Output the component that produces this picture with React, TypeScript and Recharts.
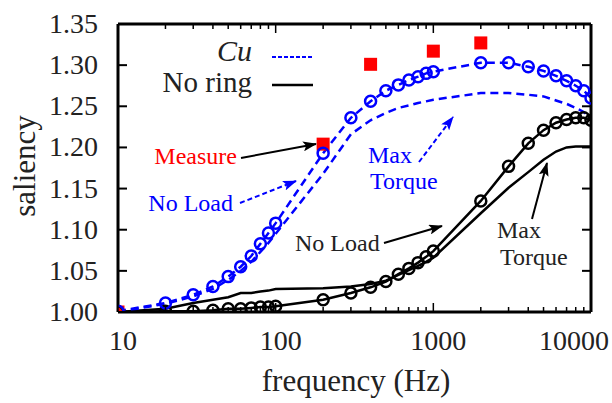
import { ComposedChart, Line, Scatter, XAxis, YAxis } from 'recharts';

// frequencies where every curve was sampled (Hz)
const FREQS = [10, 20, 30, 40, 50, 60, 70, 80, 90, 100, 200, 300, 400, 500, 600, 700, 800, 900, 1000, 2000, 3000, 4000, 5000, 6000, 7000, 8000, 9000, 10000];

const CU_NO_LOAD = [1.001, 1.011, 1.021, 1.031, 1.043, 1.055, 1.068, 1.083, 1.096, 1.108, 1.193, 1.236, 1.256, 1.269, 1.276, 1.282, 1.286, 1.29, 1.292, 1.303, 1.303, 1.298, 1.293, 1.287, 1.281, 1.275, 1.269, 1.26];
const CU_MAX_TORQUE = [1.0, 1.01, 1.019, 1.028, 1.039, 1.05, 1.061, 1.073, 1.084, 1.095, 1.168, 1.216, 1.233, 1.242, 1.248, 1.251, 1.254, 1.256, 1.258, 1.266, 1.266, 1.264, 1.262, 1.257, 1.253, 1.248, 1.243, 1.236];
const NORING_NO_LOAD = [1.0, 1.001, 1.001, 1.002, 1.004, 1.004, 1.005, 1.006, 1.006, 1.007, 1.015, 1.023, 1.03, 1.037, 1.046, 1.053, 1.06, 1.067, 1.074, 1.135, 1.177, 1.205, 1.221, 1.23, 1.234, 1.236, 1.236, 1.233];
const NORING_MAX_TORQUE = [1.0, 1.004, 1.011, 1.015, 1.018, 1.023, 1.023, 1.025, 1.026, 1.028, 1.029, 1.031, 1.034, 1.038, 1.045, 1.051, 1.056, 1.061, 1.066, 1.12, 1.151, 1.17, 1.185, 1.195, 1.2, 1.201, 1.201, 1.201];

const MEASURE_FREQS = [10, 200, 400, 1000, 2000];
const MEASURE_VALUES = [1.0, 1.204, 1.301, 1.317, 1.327];

const X_MAJOR = [10, 100, 1000, 10000];
const X_TICKS = [10, 20, 30, 40, 50, 60, 70, 80, 90, 100, 200, 300, 400, 500, 600, 700, 800, 900, 1000, 2000, 3000, 4000, 5000, 6000, 7000, 8000, 9000, 10000];
const Y_TICKS = [1.0, 1.05, 1.1, 1.15, 1.2, 1.25, 1.3, 1.35];

const BLUE = '#0000ff';
const RED = '#ff0000';
const FONT = 'Liberation Serif';

const pairs = (vals: number[]) => FREQS.map((f, i) => ({ f, v: vals[i] }));

const cuNoLoad = pairs(CU_NO_LOAD);
const cuMaxTorque = pairs(CU_MAX_TORQUE);
const noRingNoLoad = pairs(NORING_NO_LOAD);
const noRingMaxTorque = pairs(NORING_MAX_TORQUE);
const measure = MEASURE_FREQS.map((f, i) => ({ f, v: MEASURE_VALUES[i] }));

const BottomTick = (props: any) => {
  const { x, y, payload } = props;
  const major = X_MAJOR.includes(payload.value);
  const last = payload.value === 10000;
  return (
    <g>
      <line x1={x} y1={y} x2={x} y2={y - (major ? 9 : 5)} stroke="#000" strokeWidth={1.5} />
      {major && (
        <text x={last ? x + 18 : x + 5} y={y + 38} textAnchor={last ? 'end' : 'middle'} style={{ fontFamily: FONT }} fontSize={28} fill="#222">
          {payload.value}
        </text>
      )}
    </g>
  );
};

const TopTick = (props: any) => {
  const { x, y, payload } = props;
  const major = X_MAJOR.includes(payload.value);
  return <line x1={x} y1={y} x2={x} y2={y + (major ? 9 : 5)} stroke="#000" strokeWidth={1.5} />;
};

const LeftTick = (props: any) => {
  const { x, y, payload } = props;
  return (
    <g>
      <line x1={x} y1={y} x2={x + 9} y2={y} stroke="#000" strokeWidth={2} />
      <text x={x - 20} y={y + 9} textAnchor="end" style={{ fontFamily: FONT }} fontSize={28} fill="#222">
        {payload.value.toFixed(2)}
      </text>
    </g>
  );
};

const RightTick = (props: any) => {
  const { x, y } = props;
  return <line x1={x} y1={y} x2={x - 9} y2={y} stroke="#000" strokeWidth={2} />;
};

const Square = (props: any) => {
  const { cx, cy } = props;
  return <rect x={cx - 6.5} y={cy - 6.5} width={13} height={13} fill={RED} />;
};

function Overlay() {
  return (
    <svg width={612} height={403} style={{ position: 'absolute', left: 0, top: 0, pointerEvents: 'none', fontFamily: FONT }}>
      <defs>
        <marker id="headBlack" markerUnits="userSpaceOnUse" markerWidth={14} markerHeight={10} refX={13} refY={5} orient="auto">
          <path d="M0,0 L14,5 L0,10 L3,5 z" fill="#000" />
        </marker>
        <marker id="headBlue" markerUnits="userSpaceOnUse" markerWidth={14} markerHeight={10} refX={13} refY={5} orient="auto">
          <path d="M0,0 L14,5 L0,10 L3,5 z" fill={BLUE} />
        </marker>
      </defs>

      {/* legend */}
      <text x={252} y={61} textAnchor="end" fontStyle="italic" fontSize={30} fill="#222">Cu</text>
      <line x1={272} y1={57} x2={313} y2={57} stroke={BLUE} strokeWidth={2} strokeDasharray="4 2" />
      <text x={252} y={92} textAnchor="end" fontSize={29} fill="#222">No ring</text>
      <line x1={272} y1={85} x2={313} y2={85} stroke="#000" strokeWidth={2.5} />

      {/* annotations */}
      <text x={237} y={164} textAnchor="end" fontSize={24} fill={RED}>Measure</text>
      <line x1={241} y1={158} x2={316} y2={144} stroke="#000" strokeWidth={2} markerEnd="url(#headBlack)" />

      <text x={233} y={211} textAnchor="end" fontSize={24} fill={BLUE}>No Load</text>
      <line x1={240} y1={203} x2={296} y2={181} stroke={BLUE} strokeWidth={2} strokeDasharray="5 3" markerEnd="url(#headBlue)" />

      <text x={368} y={163} fontSize={24} fill={BLUE}>Max</text>
      <text x={370} y={189} fontSize={24} fill={BLUE}>Torque</text>
      <line x1={419} y1={162} x2={453} y2={117} stroke={BLUE} strokeWidth={2} strokeDasharray="5 3" markerEnd="url(#headBlue)" />

      <text x={295} y={251} fontSize={24} fill="#222">No Load</text>
      <line x1={384} y1={243} x2={442} y2={226} stroke="#000" strokeWidth={2} markerEnd="url(#headBlack)" />

      <text x={497} y={238} fontSize={24} fill="#222">Max</text>
      <text x={500} y={265} fontSize={24} fill="#222">Torque</text>
      <line x1={532} y1={219} x2={547} y2={163} stroke="#000" strokeWidth={2} markerEnd="url(#headBlack)" />

      {/* axis titles */}
      <text x={356} y={391} textAnchor="middle" fontSize={31} fill="#222">frequency (Hz)</text>
      <text x={35} y={166} textAnchor="middle" fontSize={31} fill="#222" transform="rotate(-90 35 166)">saliency</text>
    </svg>
  );
}

export default function App() {
  return (
    <div style={{ position: 'absolute', left: 0, top: 0, width: 612, height: 403, background: '#fff', fontFamily: FONT }}>
      <ComposedChart width={612} height={403} margin={{ top: 23, right: 20, bottom: 90, left: 117 }}>
        <XAxis xAxisId="b" dataKey="f" type="number" scale="log" domain={[10, 10000]} allowDataOverflow ticks={X_TICKS} interval={0}
          height={1} tickSize={0} tickMargin={0} tickLine={false} tick={BottomTick} axisLine={{ stroke: '#000', strokeWidth: 3 }} />
        <XAxis xAxisId="t" orientation="top" dataKey="f" type="number" scale="log" domain={[10, 10000]} allowDataOverflow ticks={X_TICKS} interval={0}
          height={1} tickSize={0} tickMargin={0} tickLine={false} tick={TopTick} axisLine={{ stroke: '#000', strokeWidth: 3 }} />
        <YAxis yAxisId="l" type="number" domain={[1.0, 1.35]} allowDataOverflow ticks={Y_TICKS} interval={0}
          width={1} tickSize={0} tickMargin={0} tickLine={false} tick={LeftTick} axisLine={{ stroke: '#000', strokeWidth: 3 }} />
        <YAxis yAxisId="r" orientation="right" type="number" domain={[1.0, 1.35]} allowDataOverflow ticks={Y_TICKS} interval={0}
          width={1} tickSize={0} tickMargin={0} tickLine={false} tick={RightTick} axisLine={{ stroke: '#000', strokeWidth: 3 }} />

        <Scatter xAxisId="b" yAxisId="l" data={measure} dataKey="v" shape={<Square />} isAnimationActive={false} />

        <Line xAxisId="b" yAxisId="l" data={noRingMaxTorque} dataKey="v" type="linear" stroke="#000" strokeWidth={2.5} dot={false} isAnimationActive={false} />
        <Line xAxisId="b" yAxisId="l" data={noRingNoLoad} dataKey="v" type="linear" stroke="#000" strokeWidth={2.5}
          dot={{ r: 5.5, stroke: '#000', strokeWidth: 2.5, fill: 'none' }} isAnimationActive={false} />
        <Line xAxisId="b" yAxisId="l" data={cuMaxTorque} dataKey="v" type="linear" stroke={BLUE} strokeWidth={2.5} strokeDasharray="8 5" dot={false} isAnimationActive={false} />
        <Line xAxisId="b" yAxisId="l" data={cuNoLoad} dataKey="v" type="linear" stroke={BLUE} strokeWidth={2.5} strokeDasharray="8 5"
          dot={{ r: 5.5, stroke: BLUE, strokeWidth: 2.5, fill: 'none', strokeDasharray: '' }} isAnimationActive={false} />
      </ComposedChart>
      <Overlay />
    </div>
  );
}
